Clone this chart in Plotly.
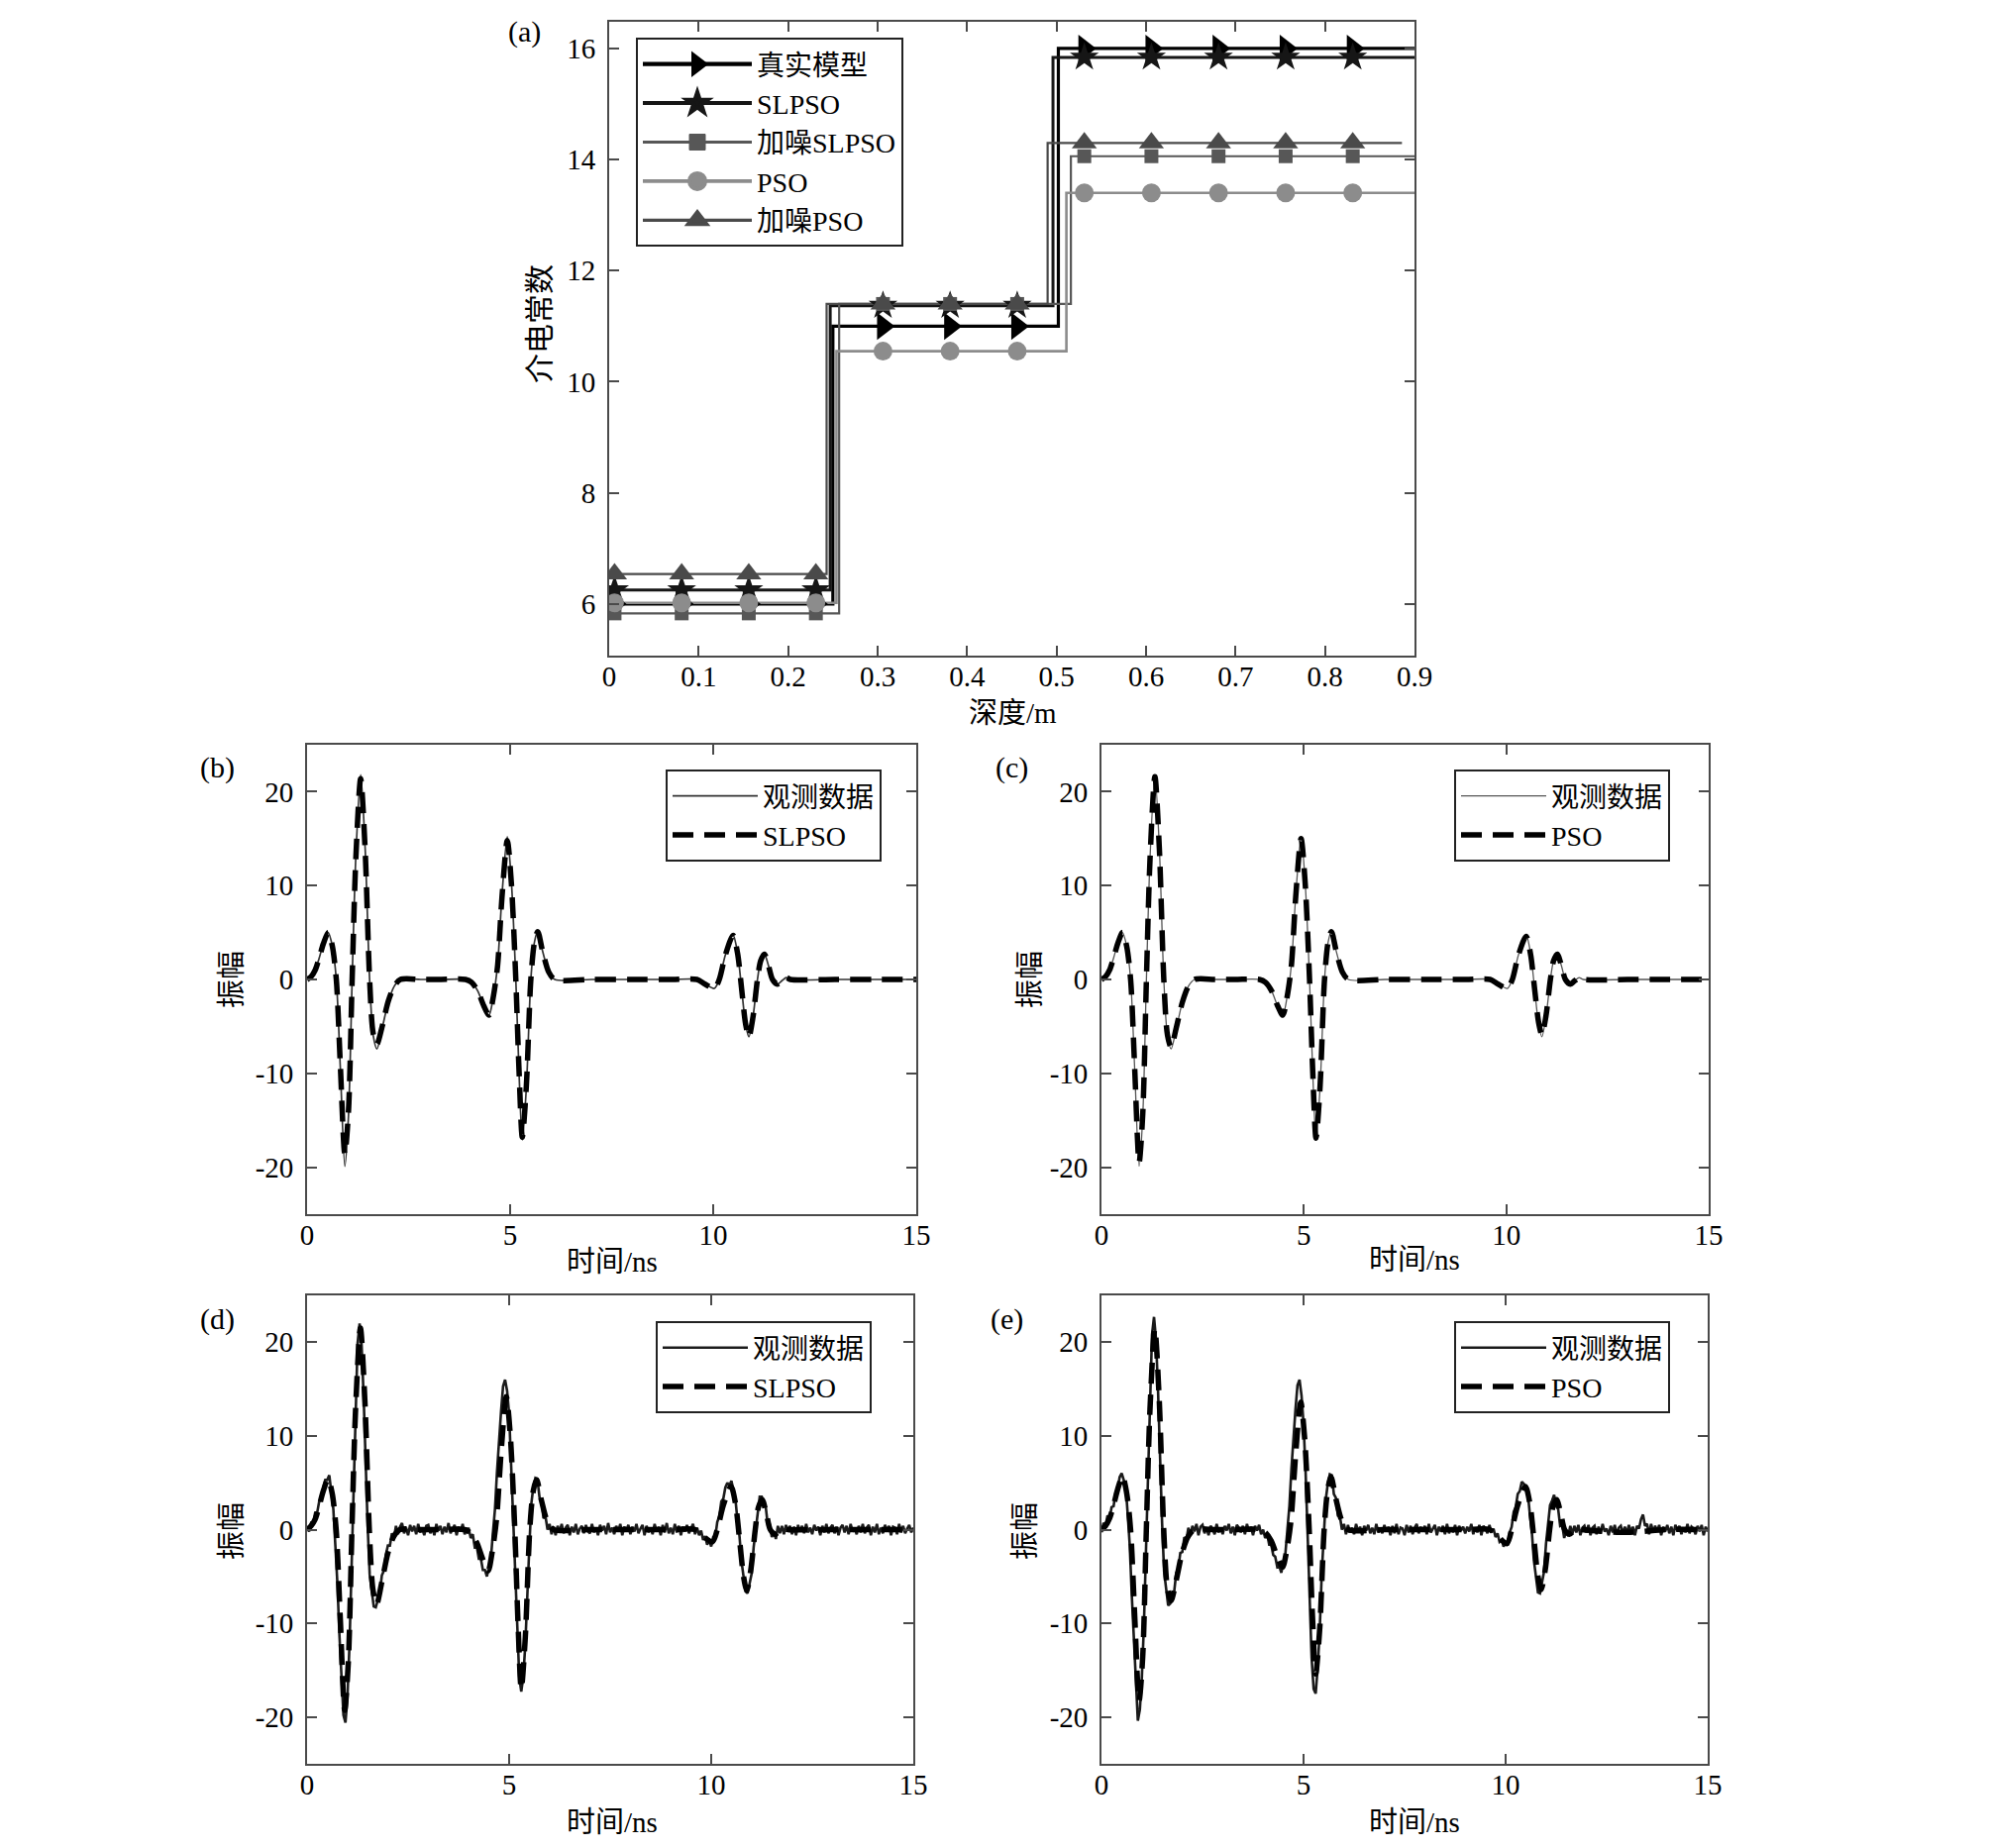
import plotly.graph_objects as go

# ---------------- panel (a): dielectric constant vs depth ----------------
depth_ticks = [0, 0.1, 0.2, 0.3, 0.4, 0.5, 0.6, 0.7, 0.8, 0.9]
depth_labels = ["0", "0.1", "0.2", "0.3", "0.4", "0.5", "0.6", "0.7", "0.8", "0.9"]
eps_ticks = [6, 8, 10, 12, 14, 16]
eps_labels = ["6", "8", "10", "12", "14", "16"]
marker_depths = [0.006, 0.081, 0.156, 0.231, 0.306, 0.381, 0.456, 0.531, 0.606, 0.681, 0.756, 0.831]

series_names = ["真实模型", "SLPSO", "加噪SLPSO", "PSO", "加噪PSO"]
true_bounds = [0.0, 0.250, 0.502, 0.900]
true_vals = [6.0, 11.0, 16.0]
slpso_bounds = [0.0, 0.247, 0.496, 0.900]
slpso_vals = [6.25, 11.37, 15.84]
nslpso_bounds = [0.0, 0.257, 0.516, 0.900]
nslpso_vals = [5.83, 11.40, 14.06]
pso_bounds = [0.0, 0.254, 0.511, 0.900]
pso_vals = [6.02, 10.55, 13.40]
npso_bounds = [0.0, 0.243, 0.490, 0.886]
npso_vals = [6.54, 11.40, 14.30]

# ---------------- panels (b)-(e): waveforms ----------------
time_ticks = [0, 5, 10, 15]
time_labels = ["0", "5", "10", "15"]
amp_ticks = [-20, -10, 0, 10, 20]
amp_labels = ["-20", "-10", "0", "10", "20"]

wave_t = [0, 0.1, 0.2, 0.3, 0.4, 0.52, 0.62, 0.72, 0.82, 0.93,
          1.02, 1.11, 1.2, 1.32, 1.43, 1.54, 1.63, 1.72, 1.85, 2.0,
          2.15, 2.3, 2.8, 3.3, 3.9, 4.05, 4.2, 4.35, 4.48, 4.58,
          4.69, 4.8, 4.93, 5.03, 5.14, 5.22, 5.3, 5.4, 5.51, 5.6,
          5.68, 5.8, 5.95, 6.1, 7.0, 8.0, 9.0, 9.6, 9.8, 10.03,
          10.15, 10.3, 10.49, 10.6, 10.7, 10.8, 10.88, 10.98, 11.09, 11.17,
          11.26, 11.36, 11.46, 11.58, 11.7, 11.8, 11.9, 13.0, 14.0, 15.0]

obs_clean = [0.0, 0.3, 1.0, 2.3, 3.8, 5.0, 3.6, 0.0, -9.5, -19.9,
             -14.5, 0.0, 13.0, 21.8, 14.0, 0.0, -6.0, -7.4, -5.2, -2.4,
             -0.7, 0.0, 0.0, 0.0, 0.0, -0.3, -1.2, -2.8, -3.8, -2.0,
             1.5, 9.0, 15.2, 10.5, 0.0, -10.0, -17.1, -11.5, 0.0, 4.0,
             5.1, 3.0, 0.8, 0.0, 0.0, 0.0, 0.0, 0.0, -0.5, -0.95,
             0.0, 2.6, 4.7, 2.8, -1.0, -4.8, -6.1, -4.0, 0.0, 2.0,
             2.7, 1.5, 0.0, -0.5, -0.1, 0.2, 0.0, 0.0, 0.0, 0.0]

slpso_fit_b = [0.0, 0.3, 1.0, 2.3, 3.8, 5.0, 3.6, 0.0, -9.2, -18.6,
               -14.0, 0.0, 12.8, 21.4, 13.8, 0.0, -5.8, -6.9, -5.0, -2.3,
               -0.7, 0.0, 0.0, 0.0, 0.0, -0.3, -1.2, -2.8, -3.8, -2.0,
               1.4, 8.8, 14.8, 10.3, 0.0, -9.8, -16.8, -11.3, 0.0, 4.0,
               5.1, 3.0, 0.8, 0.0, 0.0, 0.0, 0.0, 0.0, -0.5, -0.95,
               0.0, 2.6, 4.7, 2.8, -1.0, -4.8, -6.1, -4.0, 0.0, 2.0,
               2.7, 1.5, 0.0, -0.5, -0.1, 0.2, 0.0, 0.0, 0.0, 0.0]

pso_fit_c = [0.0, 0.3, 1.0, 2.3, 3.8, 5.0, 3.6, 0.0, -9.4, -19.5,
             -14.3, 0.0, 12.9, 21.6, 13.9, 0.0, -5.9, -7.2, -5.1, -2.4,
             -0.7, 0.0, 0.0, 0.0, 0.0, -0.3, -1.2, -2.8, -3.8, -2.0,
             1.4, 8.9, 15.0, 10.4, 0.0, -9.9, -16.9, -11.4, 0.0, 4.0,
             5.1, 3.0, 0.8, 0.0, 0.0, 0.0, 0.0, 0.0, -0.5, -0.95,
             0.0, 2.6, 4.6, 2.7, -1.0, -4.6, -5.9, -3.9, 0.0, 2.0,
             2.7, 1.5, 0.0, -0.5, -0.1, 0.2, 0.0, 0.0, 0.0, 0.0]

slpso_fit_d = [0.0, 0.4, 1.1, 2.5, 4.1, 5.4, 3.9, 0.0, -9.3, -19.3,
               -14.2, 0.0, 12.8, 21.5, 13.8, 0.0, -6.4, -8.0, -5.6, -2.5,
               -0.7, 0.0, 0.0, 0.0, 0.0, -0.4, -1.4, -3.2, -4.4, -2.4,
               1.2, 8.2, 14.2, 10.0, 0.0, -10.0, -17.0, -11.5, 0.0, 4.2,
               5.3, 3.1, 0.8, 0.0, 0.0, 0.0, 0.0, 0.0, -0.7, -1.3,
               0.0, 2.6, 4.6, 2.8, -1.0, -5.0, -6.5, -4.3, 0.0, 2.4,
               3.2, 1.8, 0.0, -0.5, -0.1, 0.1, 0.0, 0.0, 0.0, 0.0]

pso_fit_e = [0.0, 0.4, 1.2, 2.6, 4.3, 5.7, 4.0, 0.0, -9.0, -18.3,
             -13.6, 0.0, 12.8, 21.4, 13.8, 0.0, -6.2, -7.6, -5.4, -2.4,
             -0.7, 0.0, 0.0, 0.0, 0.0, -0.3, -1.2, -2.9, -4.0, -2.3,
             1.0, 7.8, 13.6, 9.6, 0.0, -9.2, -15.4, -10.6, 0.0, 4.3,
             5.6, 3.3, 0.9, 0.0, 0.0, 0.0, 0.0, 0.0, -0.7, -1.5,
             0.0, 2.6, 4.6, 2.8, -1.0, -5.0, -6.4, -4.3, 0.0, 2.4,
             3.2, 1.8, 0.0, -0.5, -0.1, 0.1, 0.0, -0.3, 0.0, 0.0]

# noisy observations, one sample every 0.05 ns from 0 to 15 ns
noisy_t = [round(0.05 * i, 2) for i in range(301)]

obs_noisy_d = [
    0.3, -0.2, 0.7, 0.6, 1.8, 1.8, 3.0, 3.1, 4.5, 5.3, 5.3, 5.8, 4.0, 2.2, -1.7, -5.7, -11.2, -15.8, -19.8, -20.6,
    -17.8, -12.3, -3.7, 4.8, 13.3, 19.9, 22.0, 19.7, 14.2, 6.3, 0.3, -4.8, -6.8, -8.2, -8.3, -7.4, -6.8, -4.9, -4.4, -2.7,
    -1.7, -1.7, -0.4, -0.9, 0.4, -0.5, 0.3, 0.7, -0.4, 0.2, -0.6, 0.5, -0.2, 0.4, -0.5, 0.6, -0.3, 0.1, -0.6, 0.4,
    0.5, -0.4, 0.2, -0.6, 0.6, -0.1, 0.4, -0.5, 0.3, -0.3, 0.7, -0.4, 0.1, 0.5, -0.6, 0.3, -0.2, 0.6, -0.5, 0.1,
    0.1, -0.9, -0.5, -1.9, -1.8, -3.1, -3.1, -4.3, -4.3, -5.0, -4.0, -3.0, -0.3, 2.2, 6.2, 9.8, 12.6, 15.3, 16.0, 14.8,
    12.3, 6.8, 1.3, -5.8, -11.3, -15.7, -17.3, -15.7, -12.3, -6.3, -1.8, 2.8, 4.6, 5.5, 5.4, 3.5, 3.0, 1.2, 1.4, 0.0,
    0.6, -0.5, 0.3, -0.6, 0.4, -0.2, 0.6, -0.4, 0.2, 0.5, -0.6, 0.3, -0.3, 0.6, -0.5, 0.1, 0.4, -0.4, 0.5, -0.2,
    -0.4, 0.6, -0.3, 0.2, -0.6, 0.5, -0.1, 0.4, -0.5, 0.7, -0.3, 0.2, -0.5, 0.4, -0.2, 0.6, -0.6, 0.3, -0.1, 0.5,
    -0.5, 0.3, -0.2, 0.6, -0.4, 0.1, 0.5, -0.6, 0.4, -0.3, 0.2, -0.5, 0.6, -0.2, 0.3, -0.6, 0.5, -0.3, 0.7, -0.4,
    0.2, -0.5, 0.6, -0.3, 0.4, -0.6, 0.3, -0.2, 0.5, -0.4, 0.1, 0.6, -0.5, 0.2, -0.6, -0.1, -1.1, -0.7, -1.6, -1.1,
    -1.8, -0.8, -0.8, 0.8, 1.4, 3.0, 3.3, 4.5, 5.0, 4.7, 5.2, 4.0, 3.2, 1.0, -0.7, -3.4, -4.8, -6.6, -6.8, -5.9,
    -4.7, -1.9, -0.1, 2.2, 3.5, 3.5, 2.7, 2.4, 0.5, 0.5, -0.8, -0.2, -1.0, 0.4, -0.4, 0.4, -0.5, 0.5, -0.2, 0.4,
    -0.5, 0.3, -0.6, 0.5, -0.2, 0.4, -0.4, 0.6, -0.3, 0.2, -0.5, 0.5, -0.1, 0.3, -0.6, 0.4, -0.3, 0.6, -0.4, 0.2,
    0.5, -0.4, 0.3, -0.6, 0.2, 0.5, -0.3, 0.4, -0.5, 0.6, -0.2, 0.1, -0.5, 0.4, -0.3, 0.6, -0.4, 0.2, 0.5, -0.6,
    0.3, -0.3, 0.6, -0.5, 0.2, -0.4, 0.5, -0.1, 0.4, -0.6, 0.3, 0.2, -0.5, 0.6, -0.3, 0.4, -0.4, 0.1, 0.5, -0.3,
    0.2]

obs_noisy_e = [
    -0.3, 0.7, 0.4, 1.5, 1.1, 2.4, 2.5, 4.0, 4.3, 5.6, 6.0, 5.4, 4.6, 1.6, -1.7, -7.0, -11.8, -17.2, -20.4, -19.2,
    -15.7, -10.2, -1.7, 6.7, 15.2, 20.8, 22.7, 20.3, 14.8, 6.7, 0.7, -4.5, -6.5, -8.1, -7.9, -7.0, -6.6, -4.6, -4.2, -2.5,
    -2.4, -0.8, -1.1, 0.2, -0.6, 0.4, -0.2, 0.6, -0.6, 0.3, 0.5, -0.4, 0.2, -0.6, 0.4, 0.1, -0.5, 0.6, -0.3, 0.2,
    -0.5, 0.4, -0.1, 0.6, -0.4, 0.3, -0.6, 0.5, 0.2, -0.3, 0.4, -0.5, 0.6, -0.2, 0.3, -0.6, 0.4, -0.1, 0.5, -0.5,
    0.0, -0.9, -0.5, -1.6, -1.6, -2.7, -2.9, -4.0, -3.9, -4.6, -3.5, -2.6, 0.0, 2.5, 6.5, 10.1, 12.8, 15.4, 16.0, 14.3,
    11.3, 6.3, -0.8, -7.3, -13.7, -17.0, -17.5, -14.7, -10.8, -4.7, -0.8, 3.2, 4.9, 5.9, 5.8, 3.8, 3.4, 1.5, 1.4, 0.0,
    0.6, -0.5, 0.5, -0.3, 0.2, -0.5, 0.6, -0.2, 0.3, -0.6, 0.4, -0.1, 0.5, -0.4, 0.2, -0.5, 0.6, -0.3, 0.1, -0.4,
    0.5, -0.2, 0.3, -0.6, 0.4, -0.4, 0.6, -0.5, 0.2, 0.1, -0.6, 0.5, -0.3, 0.4, -0.5, 0.2, 0.6, -0.4, 0.3, -0.2,
    0.4, -0.5, 0.6, -0.3, 0.1, 0.5, -0.6, 0.3, -0.2, 0.4, -0.5, 0.6, -0.4, 0.2, -0.3, 0.5, -0.6, 0.4, -0.1, 0.3,
    -0.4, 0.3, -0.2, 0.6, -0.5, 0.2, -0.3, 0.5, -0.6, 0.4, 0.1, -0.4, 0.5, -0.3, 0.1, -0.8, -0.4, -1.3, -1.1, -1.8,
    -1.4, -1.7, -0.3, 0.3, 1.9, 2.4, 3.8, 4.1, 5.1, 4.9, 4.3, 3.9, 1.6, -0.3, -3.3, -5.0, -6.7, -6.8, -5.7, -4.5,
    -1.5, 0.3, 2.6, 3.1, 3.7, 2.5, 2.2, 0.4, 0.5, -0.9, -0.1, -0.7, 0.4, -0.5, 0.4, -0.3, 0.5, -0.6, 0.2, 0.4,
    -0.3, 0.5, -0.6, 0.2, 0.4, -0.5, 0.3, -0.4, 0.6, -0.2, 0.1, -0.6, 0.4, -0.3, 0.5, -0.5, 0.2, 0.4, -0.4, 0.3,
    -0.4, 0.5, -0.2, 0.3, -0.6, 0.4, 0.1, 1.1, 1.6, 0.4, 0.6, -0.5, 0.6, -0.3, 0.4, -0.2, 0.5, -0.6, 0.3, -0.2,
    0.5, -0.4, 0.3, -0.6, 0.5, -0.1, 0.4, -0.5, 0.2, -0.3, 0.6, -0.4, 0.3, 0.1, -0.5, 0.4, -0.2, 0.5, -0.6, 0.3,
    -0.2]

# ---------------- styling ----------------
SERIF = "Liberation Serif, Times New Roman, serif"
MIXED = "Liberation Serif, Noto Sans CJK SC, serif"

W, H = 2008, 1866


def px_x(p):
    """reference page pixel -> paper x"""
    return p / W


def px_y(p):
    return 1 - p / H


fig = go.Figure()

# ---- panel (a) ----
step_series = [
    (series_names[0], true_bounds, true_vals, "#000000", 3.2, "triangle-right", 24),
    (series_names[1], slpso_bounds, slpso_vals, "#161616", 3.0, "star", 22),
    (series_names[2], nslpso_bounds, nslpso_vals, "#575757", 2.2, "square", 14),
    (series_names[3], pso_bounds, pso_vals, "#8c8c8c", 2.6, "circle", 19),
    (series_names[4], npso_bounds, npso_vals, "#4a4a4a", 2.2, "triangle-up", 22),
]


def step_at(bounds, vals, x):
    for i, v in enumerate(vals):
        if x < bounds[i + 1]:
            return v
    return vals[-1]


for name, bounds, vals, color, lw, sym, msize in step_series:
    fig.add_trace(go.Scatter(
        x=bounds, y=vals + [vals[-1]], mode="lines", line=dict(color=color, width=lw, shape="hv"),
        xaxis="x", yaxis="y", showlegend=False, hoverinfo="skip"))
for name, bounds, vals, color, lw, sym, msize in step_series:
    fig.add_trace(go.Scatter(
        x=marker_depths, y=[step_at(bounds, vals, d) for d in marker_depths], mode="markers",
        marker=dict(symbol=sym, size=msize, color=color, line=dict(width=0)),
        xaxis="x", yaxis="y", showlegend=False))
for name, bounds, vals, color, lw, sym, msize in step_series:
    fig.add_trace(go.Scatter(
        x=[None], y=[None], mode="lines+markers", name=name,
        line=dict(color=color, width=lw + 1.0),
        marker=dict(symbol=sym, size=16, color=color, line=dict(color=color, width=4 if msize > 16 else 1)),
        xaxis="x", yaxis="y", legend="legend"))

# ---- panels (b)-(e) ----
wave_panels = [
    ("x2", "y2", "legend2", wave_t, obs_clean, "#333333", 1.7, "SLPSO", slpso_fit_b),
    ("x3", "y3", "legend3", wave_t, obs_clean, "#555555", 1.3, "PSO", pso_fit_c),
    ("x4", "y4", "legend4", noisy_t, obs_noisy_d, "#1c1c1c", 2.6, "SLPSO", slpso_fit_d),
    ("x5", "y5", "legend5", noisy_t, obs_noisy_e, "#1a1a1a", 2.6, "PSO", pso_fit_e),
]
for xa, ya, lg, ot, ov, oc, ow, fname, fv in wave_panels:
    shape = "spline" if ot is wave_t else "linear"
    fig.add_trace(go.Scatter(
        x=ot, y=ov, mode="lines", name="观测数据",
        line=dict(color=oc, width=ow, shape=shape, smoothing=0.8),
        xaxis=xa, yaxis=ya, legend=lg))
    fig.add_trace(go.Scatter(
        x=wave_t, y=fv, mode="lines", name=fname,
        line=dict(color="#000000", width=5.5, dash="21px,11px", shape="spline", smoothing=0.8),
        xaxis=xa, yaxis=ya, legend=lg))

axis_common = dict(showline=True, linecolor="#4a4a4a", linewidth=1.8, mirror="ticks",
                   ticks="inside", ticklen=10, tickwidth=1.6, tickcolor="#4a4a4a",
                   showgrid=False, zeroline=False, automargin=False)

# axes boxes in reference page pixels: ([left, right], [top, bottom])
domains = {
    "": ([615, 1428], [22, 662]),
    "2": ([310, 925], [752, 1226]),
    "3": ([1112, 1725], [752, 1226]),
    "4": ([310, 922], [1308, 1781]),
    "5": ([1112, 1724], [1308, 1781]),
}

layout = dict(width=W, height=H, margin=dict(l=0, r=0, t=0, b=0, autoexpand=False),
              paper_bgcolor="white", plot_bgcolor="white")

tick_font = dict(family=SERIF, size=29, color="black")
for key, (xd, yd) in domains.items():
    xdom = [px_x(xd[0]), px_x(xd[1])]
    ydom = [px_y(yd[1]), px_y(yd[0])]
    if key == "":
        xr, xt, xl, yr, yt, yl = [0, 0.9], depth_ticks, depth_labels, [5.07, 16.48], eps_ticks, eps_labels
    else:
        xr, xt, xl, yr, yt, yl = [0, 15], time_ticks, time_labels, [-25, 25], amp_ticks, amp_labels
    layout["xaxis" + key] = dict(axis_common, domain=xdom, range=xr, tickvals=xt, ticktext=xl,
                                 anchor="y" + key, tickfont=tick_font, ticklabelstandoff=-6)
    layout["yaxis" + key] = dict(axis_common, domain=ydom, range=yr, tickvals=yt, ticktext=yl,
                                 anchor="x" + key, tickfont=tick_font, ticklabelstandoff=6)

legend_common = dict(bgcolor="white", bordercolor="#222222", borderwidth=2,
                     font=dict(family=MIXED, size=28, color="black"),
                     xanchor="left", yanchor="top", tracegroupgap=0)
layout["legend"] = dict(legend_common, x=px_x(642), y=px_y(38), itemwidth=110)
layout["legend2"] = dict(legend_common, x=px_x(672), y=px_y(777), itemwidth=86)
layout["legend3"] = dict(legend_common, x=px_x(1468), y=px_y(777), itemwidth=86)
layout["legend4"] = dict(legend_common, x=px_x(662), y=px_y(1334), itemwidth=86)
layout["legend5"] = dict(legend_common, x=px_x(1468), y=px_y(1334), itemwidth=86)

annots = []


def add_text(text, cx, cy, size, family, angle=0):
    annots.append(dict(text=text, x=px_x(cx), y=px_y(cy), xref="paper", yref="paper",
                       xanchor="center", yanchor="middle", showarrow=False, textangle=angle,
                       font=dict(family=family, size=size, color="black")))


add_text("(a)", 529, 32, 30, SERIF)
add_text("介电常数", 544, 327, 30, MIXED, -90)
add_text("深度/m", 1022, 720, 29, MIXED)
for lab, cx, cy in [("(b)", 219, 775), ("(c)", 1021, 775), ("(d)", 219, 1332), ("(e)", 1016, 1332)]:
    add_text(lab, cx, cy, 30, SERIF)
for cx, cy in [(234, 989), (1040, 989), (234, 1546), (1035, 1546)]:
    add_text("振幅", cx, cy, 29, MIXED, -90)
for cx, cy in [(618, 1274), (1428, 1272), (618, 1840), (1428, 1840)]:
    add_text("时间/ns", cx, cy, 29, MIXED)

layout["annotations"] = annots
fig.update_layout(layout)
fig.write_html(
    "out.html",
    config={"displayModeBar": False},
    post_script=("document.body.style.margin='0px';"
                 "document.body.style.overflow='hidden';"
                 "document.documentElement.style.overflow='hidden';"))
